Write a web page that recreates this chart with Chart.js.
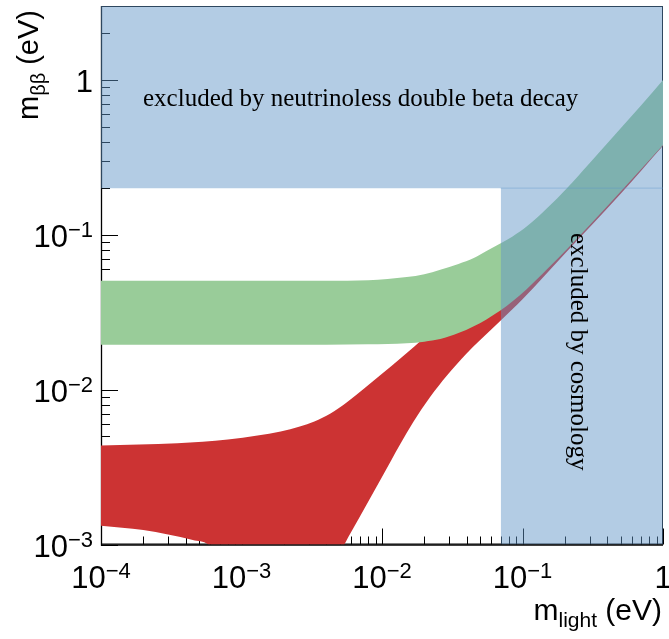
<!DOCTYPE html>
<html lang="en">
<head>
    <meta charset="UTF-8">
    <title>m_bb vs m_light</title>
    <script src="https://cdn.jsdelivr.net/npm/chart.js"></script>
    <style>
        body { margin: 0; background: #fff; }
        canvas { display: block; }
    </style>
</head>
<body>
<canvas id="chart" width="669" height="639"></canvas>
<script>
    // inverted hierarchy band (green)
    const ihMass = [1e-4, 1e-3, 4e-3, 8e-3, 0.015, 0.02, 0.026, 0.035, 0.045, 0.055, 0.07, 0.085, 0.107, 0.15, 0.207, 0.3, 0.5, 0.7, 1];
    const ihMax = [0.0504, 0.0504, 0.0505, 0.0509, 0.0533, 0.0556, 0.0594, 0.0647, 0.0707, 0.0783, 0.088, 0.0976, 0.113, 0.149, 0.2, 0.29, 0.488, 0.687, 1.0];
    const ihMin = [0.0195, 0.0195, 0.0195, 0.0196, 0.0199, 0.0204, 0.0212, 0.0232, 0.0257, 0.0283, 0.0325, 0.0372, 0.0445, 0.06, 0.0805, 0.115, 0.19, 0.266, 0.38];

    // normal hierarchy band (red)
    const nhMassUp = [1e-4, 3.5e-4, 8e-4, 1.3e-3, 1.9e-3, 2.6e-3, 3.3e-3, 4.3e-3, 5.6e-3, 7.5e-3, 0.01, 0.0135, 0.017, 0.025, 0.04, 0.07, 0.2, 1];
    const nhMax = [0.00435, 0.0045, 0.00476, 0.00506, 0.00537, 0.00578, 0.00623, 0.00701, 0.00826, 0.0102, 0.01265, 0.0159, 0.019, 0.026, 0.04, 0.065, 0.18, 0.95];
    const nhMassLow = [1e-4, 2e-4, 3e-4, 4.5e-4, 5.8e-4, 8e-4, 4.5e-3, 5.4e-3, 7e-3, 0.01, 0.0135, 0.0167, 0.022, 0.029, 0.04, 0.05, 0.07, 0.1, 0.2, 0.5, 1];
    const nhMin = [0.00132, 0.00124, 0.00116, 0.00107, 0.001, 0.0007, 0.0007, 0.001, 0.00153, 0.00273, 0.00446, 0.00618, 0.00897, 0.01236, 0.01714, 0.02094, 0.028, 0.0383, 0.0754, 0.184, 0.376];

    // exclusion limits
    const mbbLimit = 0.2;
    const cosmoLimit = 0.07;

    // axes
    const xRange = [1e-4, 1];
    const yRange = [1e-3, 3];
    const xMajorTicks = [1e-4, 1e-3, 1e-2, 1e-1, 1];
    const xTickLabels = [['10', '−4'], ['10', '−3'], ['10', '−2'], ['10', '−1'], ['1', '']];
    const yMajorTicks = [1e-3, 1e-2, 1e-1, 1];
    const yTickLabels = [['10', '−3'], ['10', '−2'], ['10', '−1'], ['1', '']];

    const blue = 'rgba(97,149,199,0.48)';
    const green = 'rgb(153,204,153)';
    const red = 'rgb(204,51,51)';

    const SANS = '"Liberation Sans", Arial, sans-serif';
    const SERIF = '"Liberation Serif", "Times New Roman", serif';

    function pts(xs, ys) {
        return xs.map((x, i) => ({ x: x, y: ys[i] }));
    }

    function edge(data, fill, color) {
        return {
            data: data,
            showLine: true,
            fill: fill,
            backgroundColor: color,
            borderColor: 'transparent',
            borderWidth: 0,
            pointRadius: 0,
            cubicInterpolationMode: 'monotone'
        };
    }

    function minorTicks(min, max) {
        const out = [];
        for (let d = Math.floor(Math.log10(min)); d <= Math.ceil(Math.log10(max)); d++) {
            for (let k = 2; k <= 9; k++) {
                const v = k * Math.pow(10, d);
                if (v > min && v < max) out.push(v);
            }
        }
        return out;
    }

    // text with super-/subscript pieces: [text, fontSize, dy]
    function drawPieces(ctx, pieces, x, y, align) {
        let total = 0;
        pieces.forEach(p => {
            ctx.font = p[1] + 'px ' + SANS;
            p.w = ctx.measureText(p[0]).width;
            total += p.w;
        });
        let cx = align === 'right' ? x - total : (align === 'center' ? x - total / 2 : x);
        ctx.textAlign = 'left';
        ctx.textBaseline = 'alphabetic';
        pieces.forEach(p => {
            ctx.font = p[1] + 'px ' + SANS;
            ctx.fillText(p[0], cx, y + p[2]);
            cx += p.w;
        });
    }

    function labelPieces(lab) {
        const pieces = [[lab[0], 31, 0]];
        if (lab[1]) pieces.push([lab[1], 22, -10]);
        return pieces;
    }

    const decor = {
        id: 'decor',
        beforeDatasetsDraw(chart) {
            const ctx = chart.ctx;
            const a = chart.chartArea;
            const xs = chart.scales.x, ys = chart.scales.y;
            ctx.save();
            ctx.strokeStyle = '#000';
            ctx.lineWidth = 1;
            ctx.strokeRect(a.left + 0.5, a.top + 0.5, a.right - a.left - 1, a.bottom - a.top - 1);
            ctx.lineWidth = 1.3;
            ctx.beginPath();
            ctx.moveTo(a.left + 0.5, a.top);
            ctx.lineTo(a.left + 0.5, a.bottom + 0.5);
            ctx.lineTo(a.right, a.bottom + 0.5);
            ctx.stroke();
            ctx.lineWidth = 1;
            ctx.beginPath();
            xMajorTicks.forEach(v => {
                const px = Math.round(xs.getPixelForValue(v)) + 0.5;
                ctx.moveTo(px, a.bottom); ctx.lineTo(px, a.bottom - 16);
            });
            minorTicks(xRange[0], xRange[1]).forEach(v => {
                const px = Math.round(xs.getPixelForValue(v)) + 0.5;
                ctx.moveTo(px, a.bottom); ctx.lineTo(px, a.bottom - 8);
            });
            yMajorTicks.forEach(v => {
                const py = Math.round(ys.getPixelForValue(v)) + 0.5;
                ctx.moveTo(a.left, py); ctx.lineTo(a.left + 17, py);
            });
            minorTicks(yRange[0], yRange[1]).forEach(v => {
                const py = Math.round(ys.getPixelForValue(v)) + 0.5;
                ctx.moveTo(a.left, py); ctx.lineTo(a.left + 9, py);
            });
            ctx.stroke();
            ctx.restore();
        },
        afterDraw(chart) {
            const ctx = chart.ctx;
            const xs = chart.scales.x, ys = chart.scales.y;
            ctx.save();
            ctx.fillStyle = '#000';

            // tick labels
            xMajorTicks.forEach((v, i) => {
                drawPieces(ctx, labelPieces(xTickLabels[i]), xs.getPixelForValue(v), 588, 'center');
            });
            yMajorTicks.forEach((v, i) => {
                drawPieces(ctx, labelPieces(yTickLabels[i]), 93, ys.getPixelForValue(v) + 12, 'right');
            });

            // axis titles
            drawPieces(ctx, [['m', 30, 0], ['light', 21, 7], [' (eV)', 30, 0]], 662, 620, 'right');
            ctx.save();
            ctx.translate(38, 10);
            ctx.rotate(-Math.PI / 2);
            drawPieces(ctx, [['m', 29, 0], ['ββ', 20, 7], [' (eV)', 29, 0]], 0, 0, 'right');
            ctx.restore();

            // exclusion labels
            ctx.font = '25px ' + SERIF;
            ctx.textAlign = 'left';
            ctx.textBaseline = 'alphabetic';
            ctx.fillText('excluded by neutrinoless double beta decay', 143, 106);
            ctx.save();
            ctx.translate(571, 233);
            ctx.rotate(Math.PI / 2);
            ctx.fillText('excluded by cosmology', 0, 0);
            ctx.restore();
            ctx.restore();
        }
    };

    new Chart(document.getElementById('chart'), {
        type: 'scatter',
        data: {
            datasets: [
                // drawn last (on top): exclusion regions
                {
                    data: [{ x: xRange[0], y: mbbLimit }, { x: xRange[1], y: mbbLimit }],
                    showLine: true, fill: 'end', backgroundColor: blue,
                    borderColor: 'transparent', borderWidth: 0, pointRadius: 0
                },
                {
                    data: [{ x: cosmoLimit, y: mbbLimit }, { x: xRange[1], y: mbbLimit }],
                    showLine: true, fill: 'start', backgroundColor: blue,
                    borderColor: blue, borderWidth: 1, pointRadius: 0
                },
                edge(pts(ihMass, ihMax), '+1', green),
                edge(pts(ihMass, ihMin), false, green),
                edge(pts(nhMassUp, nhMax), '+1', red),
                edge(pts(nhMassLow, nhMin), false, red)
            ]
        },
        options: {
            responsive: false,
            animation: false,
            devicePixelRatio: 1,
            layout: { padding: { left: 101, top: 6, right: 6, bottom: 94.5 } },
            plugins: { legend: { display: false }, tooltip: { enabled: false } },
            scales: {
                x: { type: 'logarithmic', min: xRange[0], max: xRange[1], display: false },
                y: { type: 'logarithmic', min: yRange[0], max: yRange[1], display: false }
            }
        },
        plugins: [decor]
    });
</script>
</body>
</html>
